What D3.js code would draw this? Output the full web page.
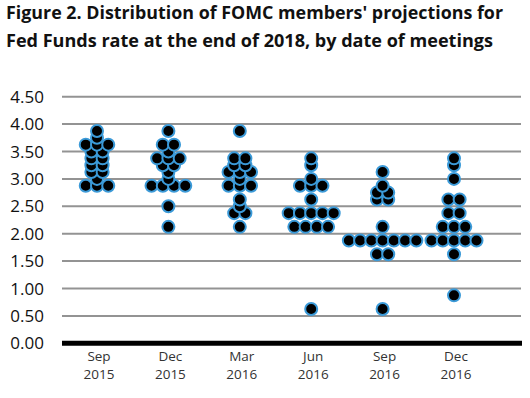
<!DOCTYPE html>
<html>
<head>
<meta charset="utf-8">
<script src="https://cdn.jsdelivr.net/npm/d3@7"></script>
<style>
body { margin: 0; background: #fff; }
text { font-family: "Open Sans", sans-serif; }
</style>
</head>
<body>
<svg id="chart" width="530" height="398"></svg>
<script>
// meetings on the x axis
var meetings = ["Sep 2015", "Dec 2015", "Mar 2016", "Jun 2016", "Sep 2016", "Dec 2016"];

// each participant's projected rate for end of 2018, per meeting
var sep2015 = [3.875, 3.75, 3.625, 3.625, 3.625, 3.5, 3.5, 3.375, 3.375,
               3.25, 3.25, 3.125, 3.125, 3.0, 2.875, 2.875, 2.875];
var dec2015 = [3.875, 3.625, 3.625, 3.5, 3.375, 3.375, 3.375, 3.25, 3.25,
               3.125, 3.0, 2.875, 2.875, 2.875, 2.875, 2.5, 2.125];
var mar2016 = [3.875, 3.375, 3.375, 3.25, 3.25, 3.125, 3.125, 3.125, 3.0,
               2.875, 2.875, 2.875, 2.625, 2.5, 2.375, 2.375, 2.125];
var jun2016 = [3.375, 3.25, 3.0, 2.875, 2.875, 2.875, 2.625, 2.375, 2.375, 2.375,
               2.375, 2.375, 2.125, 2.125, 2.125, 2.125, 0.625];
var sep2016 = [3.125, 2.875, 2.75, 2.75, 2.625, 2.625, 2.125, 1.875, 1.875, 1.875,
               1.875, 1.875, 1.875, 1.875, 1.625, 1.625, 0.625];
var dec2016 = [3.375, 3.25, 3.0, 2.625, 2.625, 2.375, 2.375, 2.125, 2.125, 2.125,
               1.875, 1.875, 1.875, 1.875, 1.875, 1.625, 0.875];

var yTicks = [0, 0.5, 1, 1.5, 2, 2.5, 3, 3.5, 4, 4.5];
var titleLines = ["Figure 2. Distribution of FOMC members' projections for",
                  "Fed Funds rate at the end of 2018, by date of meetings"];

var allDots = [sep2015, dec2015, mar2016, jun2016, sep2016, dec2016];

var svg = d3.select("#chart");

var x = d3.scalePoint().domain(meetings).range([97, 454]);
var y = d3.scaleLinear().domain([0, 4.5]).range([343.3, 96.7]);
var dodge = 11.25;  // horizontal gap between dots sharing a value

// title
svg.selectAll("text.title")
  .data(titleLines)
  .enter()
  .append("text")
  .attr("class", "title")
  .attr("x", 6)
  .attr("y", function(d, i) { return 18.5 + i * 28.3; })
  .attr("textLength", function(d, i) { return i == 0 ? 497 : 487; })
  .attr("lengthAdjust", "spacingAndGlyphs")
  .style("font-size", "18px")
  .style("font-weight", 700)
  .attr("fill", "#111")
  .text(function(d) { return d; });

// gridlines
svg.selectAll("line.grid")
  .data(yTicks.slice(1))
  .enter()
  .append("line")
  .attr("class", "grid")
  .attr("x1", 62).attr("x2", 521)
  .attr("y1", function(d) { return y(d); })
  .attr("y2", function(d) { return y(d); })
  .attr("stroke", "#939393")
  .attr("stroke-width", 2);

// y labels
svg.selectAll("text.ylab")
  .data(yTicks)
  .enter()
  .append("text")
  .attr("class", "ylab")
  .attr("x", 44)
  .attr("y", function(d) { return y(d); })
  .attr("dy", "0.36em")
  .attr("text-anchor", "end")
  .style("font-size", "17px")
  .attr("fill", "#111")
  .text(function(d) { return d3.format(".2f")(d); });

// x labels, month over year
[0, 1].forEach(function(line) {
  svg.selectAll("text.xlab" + line)
    .data(meetings)
    .enter()
    .append("text")
    .attr("class", "xlab" + line)
    .attr("x", function(d) { return x(d) + 2; })
    .attr("y", line == 0 ? 361 : 379)
    .attr("text-anchor", "middle")
    .style("font-size", "13.5px")
    .attr("fill", "#333")
    .text(function(d) { return d.split(" ")[line]; });
});

// dots: same values spread into a centred row
var nodes = [];
allDots.forEach(function(vals, m) {
  var counts = {};
  vals.forEach(function(v) { counts[v] = (counts[v] || 0) + 1; });
  var seen = {};
  vals.forEach(function(v) {
    var k = seen[v] || 0;
    seen[v] = k + 1;
    nodes.push({
      v: v,
      x: x(meetings[m]) + (k - (counts[v] - 1) / 2) * dodge,
      y: y(v)
    });
  });
});
nodes.sort(function(a, b) { return a.v - b.v; });

// zero line
svg.append("line")
  .attr("x1", 62).attr("x2", 522)
  .attr("y1", y(0)).attr("y2", y(0))
  .attr("stroke", "#000")
  .attr("stroke-width", 5);

svg.selectAll("circle")
  .data(nodes)
  .enter()
  .append("circle")
  .attr("cx", function(d) { return d.x; })
  .attr("cy", function(d) { return d.y; })
  .attr("r", 6)
  .attr("fill", "#000")
  .attr("stroke", "#3b9ad8")
  .attr("stroke-width", 2);
</script>
</body>
</html>
